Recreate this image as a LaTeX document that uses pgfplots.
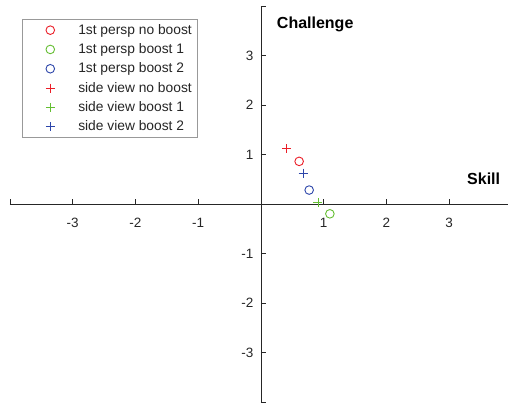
\documentclass[border=0pt]{standalone}
\usepackage{fontspec}
\setmainfont{Liberation Sans}
\usepackage{pgfplots}
\pgfplotsset{compat=1.18}
\definecolor{mred}{RGB}{235,30,40}
\definecolor{mgreen}{RGB}{100,190,50}
\definecolor{mblue}{RGB}{45,70,170}
\definecolor{axgray}{RGB}{38,38,38}
\pgfplotsset{
  mk/.style={only marks, line width=0.9pt, color=#1, mark options={solid, draw=#1},
    legend image code/.code={\path[draw=none,fill=none] (0pt,0pt) (50pt,0pt); \draw[##1] plot coordinates {(24pt,0pt)};}},
}
\begin{document}
\begin{tikzpicture}
\begin{axis}[
  scale only axis,
  width=498.2pt, height=396pt,
  xmin=-4, xmax=3.94, ymin=-4, ymax=4,
  axis lines=middle,
  axis line style={-, draw=axgray, line width=0.6pt},
  tick align=inside,
  major tick length=5pt,
  tick style={axgray, line width=0.6pt},
  xtick={-4,-3,-2,-1,0,1,2,3},
  xticklabels={,-3,-2,-1,,1,2,3},
  ytick={-4,-3,-2,-1,0,1,2,3,4},
  yticklabels={,-3,-2,-1,,1,2,3,},
  ticklabel style={font=\fontsize{13.5}{16}\selectfont, text=axgray},
  xticklabel style={yshift=-11pt},
  yticklabel style={xshift=-4pt},
  /pgf/number format/assume math mode=true,
  xlabel={\textbf{Skill}},
  ylabel={\textbf{Challenge}},
  xlabel style={at={(axis cs:3.87,0.5)}, anchor=east, font=\fontsize{16}{19}\selectfont, text=black},
  ylabel style={at={(axis cs:0.2,3.63)}, anchor=west, rotate=0, font=\fontsize{16}{19}\selectfont, text=black},
  legend style={at={(rel axis cs:0.024,0.967)}, anchor=north west,
    draw=gray!80, line width=0.7pt, font=\fontsize{13.8}{16}\selectfont,
    text=axgray, row sep=3.8pt, inner xsep=4pt, inner ysep=3pt},
  legend cell align=left,
  clip=false,
]
\coordinate (sw) at (rel axis cs:0,0);
\coordinate (ne) at (rel axis cs:1,1);
\addplot[mk=mred, mark=o, mark size=4.3pt] coordinates {(0.61,0.86)};
\addlegendentry{1st persp no boost}
\addplot[mk=mgreen, mark=o, mark size=4.3pt] coordinates {(1.10,-0.20)};
\addlegendentry{1st persp boost 1}
\addplot[mk=mblue, mark=o, mark size=4.3pt] coordinates {(0.77,0.28)};
\addlegendentry{1st persp boost 2}
\addplot[mk=mred, mark=+, mark size=4.5pt] coordinates {(0.41,1.12)};
\addlegendentry{side view no boost}
\addplot[mk=mgreen, mark=+, mark size=4.5pt] coordinates {(0.91,0.03)};
\addlegendentry{side view boost 1}
\addplot[mk=mblue, mark=+, mark size=4.5pt] coordinates {(0.675,0.62)};
\addlegendentry{side view boost 2}
\end{axis}
\path (sw) ++(-10pt,-2pt) coordinate (bba);
\path (ne) ++(0pt,6pt) coordinate (bbb);
\pgfresetboundingbox
\path (bba) rectangle (bbb);
\end{tikzpicture}
\end{document}
